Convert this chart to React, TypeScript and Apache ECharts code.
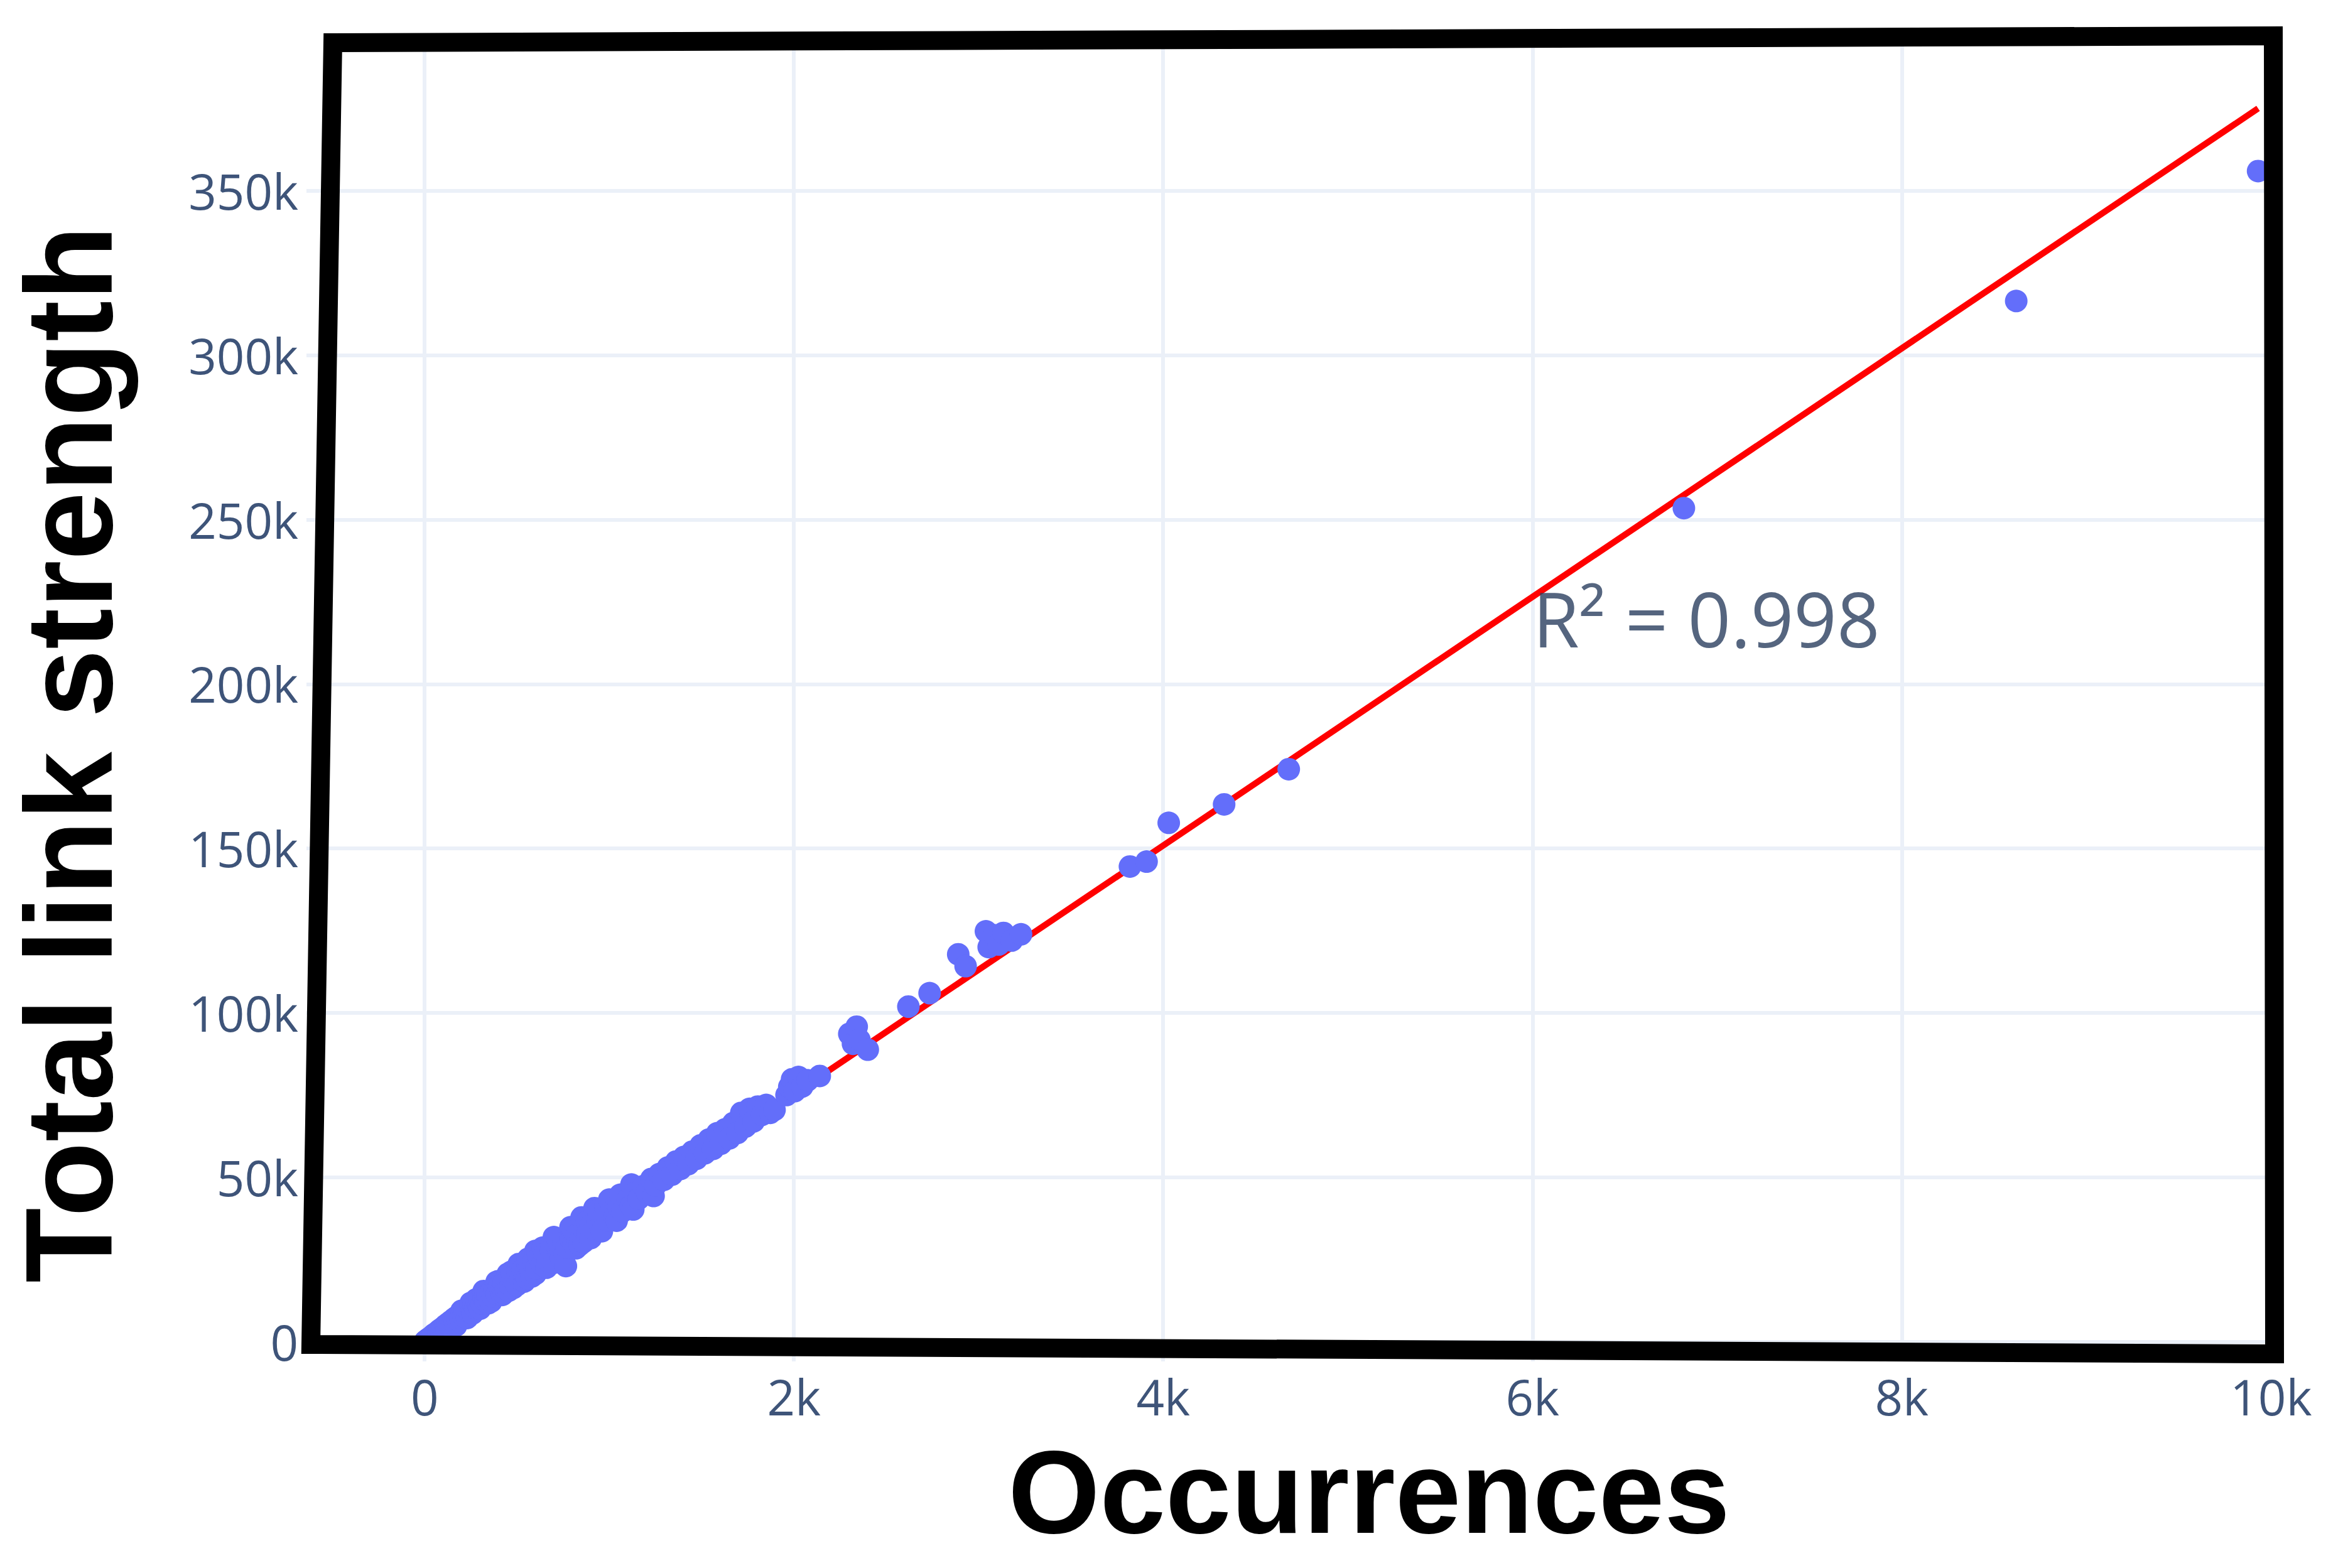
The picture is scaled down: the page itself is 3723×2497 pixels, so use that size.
import React, { useEffect, useRef } from "react";
import * as echarts from "echarts";

// ---- data ----
const occurrences = [
  3, 8, 12, 18, 25, 30, 38, 45, 52, 60, 68, 75, 82, 90, 98, 105, 112, 120, 120, 128,
  135, 142, 150, 150, 158, 165, 170, 172, 180, 188, 195, 200, 203, 210, 218, 226, 230, 234, 242, 250,
  250, 258, 260, 266, 275, 280, 284, 292, 300, 300, 310, 320, 320, 330, 330, 340, 345, 350, 360, 360,
  370, 380, 390, 392, 400, 404, 415, 420, 428, 430, 440, 450, 452, 455, 465, 470, 478, 480, 490, 500,
  505, 510, 518, 520, 532, 540, 546, 555, 560, 560, 575, 580, 590, 600, 600, 605, 612, 620, 636, 640,
  652, 660, 668, 685, 700, 700, 700, 718, 720, 735, 740, 752, 760, 765, 770, 790, 790, 800, 808, 820,
  826, 840, 845, 850, 860, 864, 880, 882, 900, 900, 918, 920, 936, 940, 955, 960, 974, 980, 992, 1000,
  1010, 1030, 1040, 1050, 1060, 1072, 1100, 1118, 1120, 1130, 1140, 1160, 1185, 1205, 1228, 1240, 1250, 1272, 1295, 1318,
  1340, 1362, 1385, 1405, 1428, 1450, 1472, 1495, 1518, 1540, 1562, 1585, 1605, 1628, 1650, 1672, 1695, 1715, 1738, 1760,
  1782, 1805, 1828, 1850, 1872, 1895,
  1960, 1975, 1990, 2005, 2025, 2045, 2075, 2140,
  2300, 2320, 2340, 2355, 2400, 2620, 2735, 2890, 2930,
  3040, 3055, 3085, 3110, 3135, 3180, 3230,
  3820, 3910, 4030, 4330, 4680, 6820, 8620, 9930,
];
const linkStrength = [
  110, 350, 420, 760, 1050, 900, 1600, 1700, 2300, 2200, 2900, 3000, 3600, 3300, 4200, 3900, 4900, 4500, 3500, 5600,
  5000, 6200, 5700, 4600, 6900, 6100, 4900, 7500, 6600, 8100, 7200, 9400, 8800, 7800, 9500, 8500, 7200, 10100, 9100, 10800,
  11800, 9700, 8600, 11400, 10300, 12900, 12000, 11000, 12700, 10000, 11600, 13500, 15400, 12300, 15000, 14300, 11700, 13000, 15200, 12200,
  13700, 16000, 18200, 14500, 18400, 16900, 15300, 14200, 17800, 14700, 16000, 20600, 18800, 15500, 17000, 21300, 19800, 16300, 18000, 17200,
  20900, 23600, 19000, 23400, 22000, 18300, 20100, 19300, 23200, 25200, 21200, 19800, 24400, 20600, 27600, 22300, 27100, 25600, 23500, 28600,
  26700, 22500, 24600, 27800, 25800, 24000, 31800, 28900, 31200, 27200, 25400, 30100, 26600, 23000, 28600, 31300, 34800, 34500, 29900, 28400,
  32600, 29400, 31200, 37800, 30300, 34000, 36600, 32600, 35400, 31500, 34000, 40600, 36800, 40000, 35400, 33600, 38200, 41200, 36900, 43200,
  39500, 38100, 36800, 41000, 44700, 39600, 43200, 41300, 47800, 40200, 45200, 43500, 47300, 45400, 49500, 44300, 47500, 51000, 49200, 53000,
  50800, 54800, 52500, 56200, 54000, 57800, 55600, 59700, 57300, 61500, 58600, 63400, 60200, 64600, 61800, 66500, 63500, 69600, 65400, 70800,
  67000, 71500, 69000, 72000, 69600, 70500,
  75000, 77500, 79800, 76200, 80500, 77600, 79500, 80800,
  93600, 90600, 95800, 91800, 88800, 101900, 106000, 117800, 114200,
  124800, 120000, 123600, 120800, 124300, 122000, 123900,
  144500, 146000, 157800, 163400, 174100, 253500, 316500, 356000,
];
// OLS trendline end points
const trendX = [5, 9930];
const trendY = [-110, 375050];

const xTicks = [0, 2000, 4000, 6000, 8000, 10000];
const yTicks = [0, 50000, 100000, 150000, 200000, 250000, 300000, 350000];

const annotationText = "R² = 0.998";
const annotationX = 6000;
const annotationY = 220000;

const xTitle = "Occurrences";
const yTitle = "Total link strength";

export default function App() {
  const ref = useRef<HTMLDivElement>(null);

  useEffect(() => {
    document.body.style.margin = "0";
    const chart = echarts.init(ref.current as HTMLDivElement, null, { renderer: "svg" });
    const fmt = (v: number) => (v === 0 ? "0" : `${v / 1000}k`);
    const tickFont = {
      fontFamily: "Open Sans",
      fontSize: 78,
      color: "#3e5479",
    };

    chart.setOption({
      animation: false,
      backgroundColor: "#ffffff",
      grid: { left: 488, right: 89, top: 63, bottom: 329, containLabel: false },
      xAxis: {
        type: "value",
        min: -640,
        max: 10060,
        splitNumber: 5,
        axisLine: { show: false },
        axisTick: { show: false, customValues: xTicks },
        axisLabel: { ...tickFont, customValues: xTicks, formatter: fmt, margin: 17 },
        splitLine: { show: true, lineStyle: { color: "#ebf0f8", width: 6 } },
      },
      yAxis: {
        type: "value",
        min: -6000,
        max: 396000,
        splitNumber: 8,
        axisLine: { show: false },
        axisTick: { show: false, customValues: yTicks },
        axisLabel: { ...tickFont, customValues: yTicks, formatter: fmt, margin: 13 },
        splitLine: { show: true, lineStyle: { color: "#ebf0f8", width: 6 } },
      },
      series: [
        {
          name: "trend",
          type: "line",
          data: trendX.map((x, i) => [x, trendY[i]]),
          symbol: "none",
          lineStyle: { color: "#ff0000", width: 10 },
          z: 2,
          silent: true,
        },
        {
          name: "keywords",
          type: "scatter",
          data: occurrences.map((x, i) => [x, linkStrength[i]]),
          symbol: "circle",
          symbolSize: 36,
          itemStyle: { color: "#636efa", opacity: 1 },
          z: 3,
        },
        {
          name: "annotation",
          type: "scatter",
          data: [[annotationX, annotationY]],
          symbolSize: 1,
          itemStyle: { color: "rgba(0,0,0,0)" },
          silent: true,
          z: 4,
          label: {
            show: true,
            position: "right",
            distance: 0,
            formatter: annotationText,
            fontFamily: "Open Sans",
            fontSize: 120,
            color: "#2a3f5f",
          },
        },
      ],
      graphic: [
        {
          type: "polygon",
          z: 100,
          shape: {
            points: [
              [530, 68],
              [3620, 57],
              [3622, 2156],
              [495, 2141],
            ],
          },
          style: { fill: "none", stroke: "#000000", lineWidth: 30, lineJoin: "miter" },
        },
        {
          type: "text",
          z: 100,
          x: 110,
          y: 1201,
          rotation: Math.PI / 2,
          style: {
            text: yTitle,
            fontFamily: "Liberation Sans",
            fontWeight: "bold",
            fontSize: 196,
            fill: "#000000",
            align: "center",
            verticalAlign: "middle",
          },
        },
        {
          type: "text",
          z: 100,
          x: 2180,
          y: 2376,
          style: {
            text: xTitle,
            fontFamily: "Liberation Sans",
            fontWeight: "bold",
            fontSize: 188,
            fill: "#000000",
            align: "center",
            verticalAlign: "middle",
          },
        },
      ],
    });

    return () => {
      chart.dispose();
    };
  }, []);

  return <div ref={ref} style={{ width: 3723, height: 2497 }} />;
}
